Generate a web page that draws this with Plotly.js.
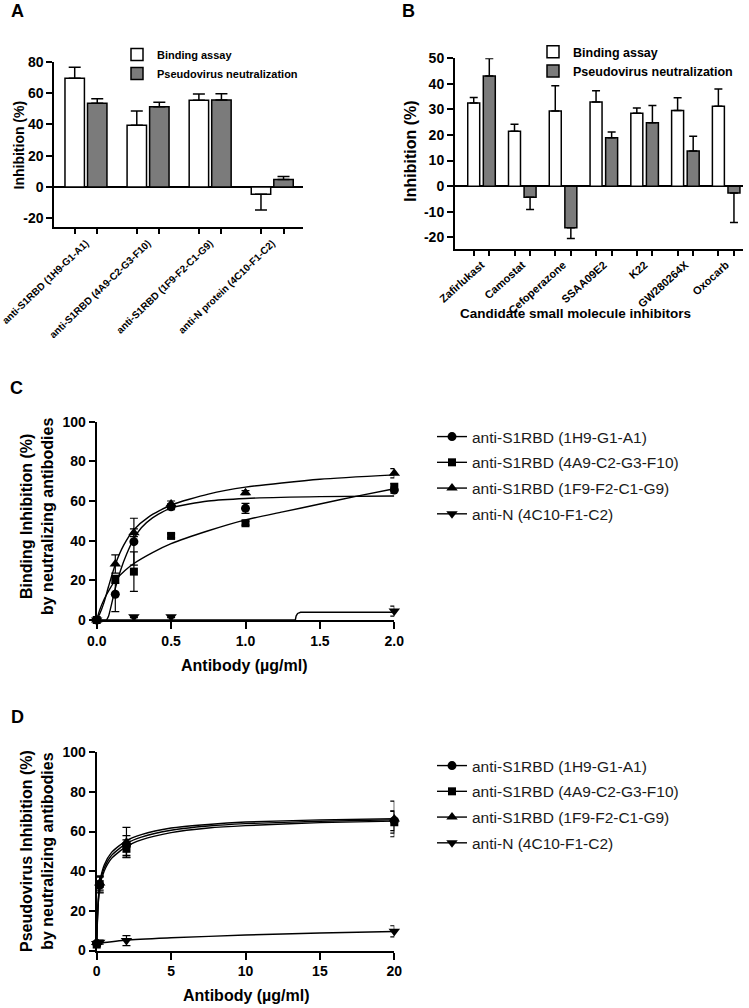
<!DOCTYPE html>
<html><head><meta charset="utf-8">
<script src="https://cdn.plot.ly/plotly-3.0.1.min.js"></script>
<style>html,body{margin:0;padding:0;background:#fff}</style>
</head><body><div id="chart" style="width:749px;height:1008px"></div>
<script>
// ---------- Panel A : antibodies ----------
const antibodyLabels = ['anti-S1RBD (1H9-G1-A1)', 'anti-S1RBD (4A9-C2-G3-F10)', 'anti-S1RBD (1F9-F2-C1-G9)', 'anti-N protein (4C10-F1-C2)'];
const aBinding = [69.4, 39.4, 55.4, -4.7];
const aBindingErr = [7.0, 9.1, 4.0, 10.0];
const aPseudo = [53.4, 51.3, 55.6, 4.7];
const aPseudoErr = [3.0, 2.8, 4.0, 1.9];
const aYTicks = [-20, 0, 20, 40, 60, 80];

// ---------- Panel B : small molecules ----------
const inhibitorLabels = ['Zafirlukast', 'Camostat', 'Cefoperazone', 'SSAA09E2', 'K22', 'GW280264X', 'Oxocarb'];
const bBinding = [32.5, 21.5, 29.4, 32.9, 28.5, 29.6, 31.2];
const bBindingErr = [2.2, 2.7, 9.9, 4.4, 2.1, 5.0, 6.8];
const bPseudo = [43.1, -4.3, -16.3, 18.9, 24.8, 13.7, -2.7];
const bPseudoErr = [6.8, 4.8, 4.2, 2.3, 6.7, 5.8, 11.5];
const bYTicks = [-20, -10, 0, 10, 20, 30, 40, 50];

// ---------- Panel C : binding inhibition ----------
const seriesNames = ['anti-S1RBD (1H9-G1-A1)', 'anti-S1RBD (4A9-C2-G3-F10)', 'anti-S1RBD (1F9-F2-C1-G9)', 'anti-N (4C10-F1-C2)'];
const cDose = [0, 0.125, 0.25, 0.5, 1, 2];
const c1H9 = [0, 13, 39.5, 57.1, 56.3, 65.5];
const c1H9Err = [0, 8.8, 11.8, 1.5, 2.5, 1.5];
const c4A9 = [0, 20.5, 24.4, 42.4, 48.8, 67.2];
const c4A9Err = [0, 2, 10, 1, 1, 1.5];
const c1F9 = [0, 28.2, 44, 58.5, 64.2, 74];
const c1F9Err = [0, 4.6, 2, 1.5, 1, 2.3];
const cNDose = [0, 0.25, 0.5, 2];
const cN = [0, 1.7, 1.7, 4.5];
const cNErr = [0, 0.5, 0.5, 2.5];
// fitted curves
const cFit1H9X = [0, 0.065, 0.08, 0.1, 0.125, 0.16, 0.2, 0.25, 0.3, 0.375, 0.5, 0.75, 1, 1.5, 2];
const cFit1H9Y = [0, 0, 2, 8, 16, 25, 33, 41, 46.5, 51.5, 56.5, 60, 61.3, 62.2, 62.5];
const cFit4A9X = [0, 0.02, 0.05, 0.09, 0.125, 0.19, 0.25, 0.375, 0.5, 0.75, 1, 1.25, 1.5, 1.75, 2];
const cFit4A9Y = [0, 5, 10.5, 16, 20, 25, 28.5, 34, 38.5, 45, 50.5, 54.5, 58.5, 62.5, 66.2];
const cFit1F9X = [0, 0.02, 0.05, 0.08, 0.125, 0.18, 0.25, 0.35, 0.5, 0.75, 1, 1.5, 2];
const cFit1F9Y = [0, 3, 9, 17, 28, 37.5, 45.5, 52, 58, 63.5, 67, 71, 73.2];
const cFitNX = [0, 1.335, 1.34, 1.35, 1.37, 2];
const cFitNY = [0, 0, 2, 3.3, 3.9, 3.9];

// ---------- Panel D : pseudovirus inhibition ----------
const dDose = [0, 0.2, 2, 20];
const d1H9 = [3.5, 33, 53, 65.5];
const d1H9Err = [1, 4, 5, 5];
const d4A9 = [3, 33.5, 51.3, 64.7];
const d4A9Err = [1, 4, 4.5, 5.5];
const d1F9 = [4, 34, 54.6, 66.4];
const d1F9Err = [1, 3.5, 7.5, 9];
const dN = [3.5, 4.2, 5, 9.7];
const dNErr = [1, 1, 2.5, 2.8];
const dFitX = [0, 0.05, 0.1, 0.2, 0.5, 1, 2, 3, 5, 7.5, 10, 15, 20];
const dFit1F9Y = [4, 17, 25, 34, 43, 49.5, 55.5, 58.5, 61.8, 63.6, 64.8, 65.9, 66.5];
const dFit1H9Y = [3.5, 16, 24, 33, 41.5, 48, 54, 57.2, 60.7, 62.8, 64, 65.2, 65.9];
const dFit4A9Y = [3, 15, 23, 32, 40, 46.5, 52.5, 55.8, 59.5, 61.8, 63, 64.5, 65.3];
const dFitNX = [0, 2, 5, 10, 15, 20];
const dFitNY = [3.5, 5.3, 6.4, 7.8, 8.8, 9.6];

// ---------- styling ----------
const W = 749, H = 1008;
const FONT = 'Liberation Sans, Arial, Helvetica, sans-serif';
const px = v => v / W;
const py = v => 1 - v / H;
const GREY = '#7b7b7b';
const symbols = ['circle', 'square', 'triangle-up', 'triangle-down'];
const msizes = [9, 8, 10, 10];

// bar geometry (fraction of a category)
const A_W = 0.313, A_OFF = [-0.338, 0.025];
const B_W = 0.294, B_OFF = [-0.338, 0.044];

function plusArr(vals, errs) { return vals.map((v, i) => v >= 0 ? errs[i] : 0); }
function minusArr(vals, errs) { return vals.map((v, i) => v < 0 ? errs[i] : 0); }

function barTrace(cats, vals, errs, name, fill, off, w, xa, ya, leg, capw) {
  return {
    type: 'bar', x: cats, y: vals, name: name, xaxis: xa, yaxis: ya, legend: leg,
    offset: off, width: w, cliponaxis: false,
    marker: { color: fill, line: { color: '#000', width: 1.5 } },
    error_y: { type: 'data', symmetric: false, array: plusArr(vals, errs), arrayminus: minusArr(vals, errs),
      color: '#000', thickness: 1.5, width: capw },
    hoverinfo: 'skip'
  };
}

const traces = [];
// Panel A
traces.push(barTrace(antibodyLabels, aBinding, aBindingErr, 'Binding assay', '#ffffff', A_OFF[0], A_W, 'x', 'y', 'legend3', 6));
traces.push(barTrace(antibodyLabels, aPseudo, aPseudoErr, 'Pseudovirus neutralization', GREY, A_OFF[1], A_W, 'x', 'y', 'legend3', 6));
const aTickVals = antibodyLabels.flatMap((c, i) => A_OFF.map(o => i + o + A_W / 2));
traces.push({ type: 'scatter', x: aTickVals, y: aTickVals.map(() => null), xaxis: 'x5', yaxis: 'y', showlegend: false, hoverinfo: 'skip' });
// Panel B
traces.push(barTrace(inhibitorLabels, bBinding, bBindingErr, 'Binding assay', '#ffffff', B_OFF[0], B_W, 'x2', 'y2', 'legend4', 4));
traces.push(barTrace(inhibitorLabels, bPseudo, bPseudoErr, 'Pseudovirus neutralization', GREY, B_OFF[1], B_W, 'x2', 'y2', 'legend4', 4));
const bTickVals = inhibitorLabels.flatMap((c, i) => B_OFF.map(o => i + o + B_W / 2));
traces.push({ type: 'scatter', x: bTickVals, y: bTickVals.map(() => null), xaxis: 'x6', yaxis: 'y2', showlegend: false, hoverinfo: 'skip' });

function addDose(xa, ya, leg, fits, pts) {
  fits.forEach(f => traces.push({
    type: 'scatter', mode: 'lines', x: f[0], y: f[1], xaxis: xa, yaxis: ya, showlegend: false,
    line: { color: '#000', width: 1.4, shape: f[2] || 'spline', smoothing: 0.6 }, cliponaxis: false, hoverinfo: 'skip'
  }));
  pts.forEach((p, k) => {
    traces.push({
      type: 'scatter', mode: 'markers', x: p[0], y: p[1], xaxis: xa, yaxis: ya, showlegend: false,
      marker: { symbol: symbols[k], size: msizes[k], color: '#000' },
      error_y: { type: 'data', array: p[2], color: '#000', thickness: 1.2, width: 4 },
      cliponaxis: false, hoverinfo: 'skip'
    });
    traces.push({
      type: 'scatter', mode: 'lines+markers', x: [null], y: [null], xaxis: xa, yaxis: ya,
      name: seriesNames[k], legend: leg, legendgroup: leg + k,
      marker: { symbol: symbols[k], size: msizes[k], color: '#000' },
      line: { color: '#000', width: 1.4 }, hoverinfo: 'skip'
    });
  });
}
addDose('x3', 'y3', 'legend',
  [[cFit1H9X, cFit1H9Y], [cFit4A9X, cFit4A9Y], [cFit1F9X, cFit1F9Y], [cFitNX, cFitNY, 'linear']],
  [[cDose, c1H9, c1H9Err], [cDose, c4A9, c4A9Err], [cDose, c1F9, c1F9Err], [cNDose, cN, cNErr]]);
addDose('x4', 'y4', 'legend2',
  [[dFitX, dFit1H9Y], [dFitX, dFit4A9Y], [dFitX, dFit1F9Y], [dFitNX, dFitNY]],
  [[dDose, d1H9, d1H9Err], [dDose, d4A9, d4A9Err], [dDose, d1F9, d1F9Err], [dDose, dN, dNErr]]);

function tf(size, bold) { return { family: FONT, size: size, color: '#000', weight: bold ? 'bold' : 'normal' }; }
function yAxis(domain, range, dtick, size, zero) {
  return { domain: domain, range: range, dtick: dtick, tick0: 0, showline: true, linecolor: '#000', linewidth: 2,
    ticks: 'outside', ticklen: 6, tickwidth: 2, tickcolor: '#000', showgrid: false,
    zeroline: !!zero, zerolinecolor: '#000', zerolinewidth: 2, tickfont: tf(size, true), fixedrange: true };
}
function catAxis(domain, range, anchor, size, angle, tlen) {
  return { domain: domain, range: range, anchor: anchor, type: 'category', showline: true, linecolor: '#000', linewidth: 2,
    ticks: 'outside', ticklen: tlen, tickcolor: 'rgba(0,0,0,0)', tickangle: angle, showgrid: false, zeroline: false,
    tickfont: tf(size, true), fixedrange: true };
}
function tickAxis(range, anchor, over, vals) {
  return { range: range, anchor: anchor, overlaying: over, tickvals: vals, ticks: 'outside', ticklen: 6, tickwidth: 2,
    tickcolor: '#000', showticklabels: false, showline: false, showgrid: false, zeroline: false, fixedrange: true };
}
function doseXAxis(domain, range, dtick, anchor, fmt) {
  return { domain: domain, range: range, dtick: dtick, tick0: 0, anchor: anchor, showline: true, linecolor: '#000', linewidth: 2,
    ticks: 'outside', ticklen: 7, tickwidth: 2, tickcolor: '#000', showgrid: false, zeroline: false,
    tickformat: fmt, tickfont: tf(14, true), fixedrange: true };
}

const aRangeX = [-0.51, 3.5], bRangeX = [-0.65, 6.42];
const legBase = { xanchor: 'left', yanchor: 'top', bgcolor: 'rgba(0,0,0,0)', itemwidth: 30, itemclick: false, itemdoubleclick: false };

function ann(text, x, y, size, angle) {
  return { text: text, x: px(x), y: py(y), xref: 'paper', yref: 'paper', showarrow: false, xanchor: 'center', yanchor: 'middle',
    textangle: angle || 0, font: tf(size, true), align: 'center' };
}

const yA = yAxis([py(226.7), py(61.7)], [-25.4, 80], 20, 14, true);
Object.assign(yA, { tickvals: aYTicks, ticktext: aYTicks.map(String), anchor: 'x' });
const yB = yAxis([py(249.3), py(58.3)], [-24.7, 50], 10, 14, true);
Object.assign(yB, { tickvals: bYTicks, ticktext: bYTicks.map(String), anchor: 'x2' });

const layout = {
  width: W, height: H, margin: { l: 0, r: 0, t: 0, b: 0 }, paper_bgcolor: '#fff', plot_bgcolor: 'rgba(0,0,0,0)',
  barmode: 'overlay', showlegend: true, hovermode: false,
  xaxis: catAxis([px(54.3), px(303.3)], aRangeX, 'y', 10, -44, 5),
  yaxis: yA,
  xaxis5: tickAxis(aRangeX, 'y', 'x', aTickVals),
  xaxis2: catAxis([px(455), px(743.3)], bRangeX, 'y2', 11, -42, 3),
  yaxis2: yB,
  xaxis6: tickAxis(bRangeX, 'y2', 'x2', bTickVals),
  xaxis3: doseXAxis([px(96.7), px(394.3)], [0, 2], 0.5, 'y3', '.1f'),
  yaxis3: Object.assign(yAxis([py(620), py(421.7)], [0, 100], 20, 14, false), { anchor: 'x3' }),
  xaxis4: doseXAxis([px(96.7), px(394.3)], [0, 20], 5, 'y4', 'd'),
  yaxis4: Object.assign(yAxis([py(950.5), py(752.3)], [0, 100], 20, 14, false), { anchor: 'x4' }),
  legend: Object.assign({}, legBase, { x: px(432), y: py(420), font: { family: FONT, size: 15.5, color: '#1a1a1a' }, tracegroupgap: 2.6 }),
  legend2: Object.assign({}, legBase, { x: px(432), y: py(749), font: { family: FONT, size: 15.5, color: '#1a1a1a' }, tracegroupgap: 2.6 }),
  legend3: Object.assign({}, legBase, { x: px(117), y: py(40), font: tf(11, true), tracegroupgap: 0 }),
  legend4: Object.assign({}, legBase, { x: px(533), y: py(37), font: tf(12.5, true), tracegroupgap: 0 }),
  annotations: [
    ann('A', 17, 11.5, 18), ann('B', 408, 11, 18), ann('C', 16.5, 388, 18), ann('D', 17, 717, 18),
    ann('Inhibition (%)', 18.5, 145, 14, -90),
    ann('Inhibition (%)', 411, 151.7, 16, -90),
    ann('Candidate small molecule inhibitors', 575, 313, 13.5),
    ann('Binding Inhibition (%)<br>by neutralizing antibodies', 37, 517, 16, -90),
    ann('Antibody (µg/ml)', 245, 665, 16),
    ann('Pseudovirus Inhibition (%)<br>by neutralizing antibodies', 37, 851, 16, -90),
    ann('Antibody (µg/ml)', 246, 995, 16)
  ]
};

Plotly.newPlot('chart', traces, layout, { staticPlot: true, displayModeBar: false });
</script>
</body></html>
